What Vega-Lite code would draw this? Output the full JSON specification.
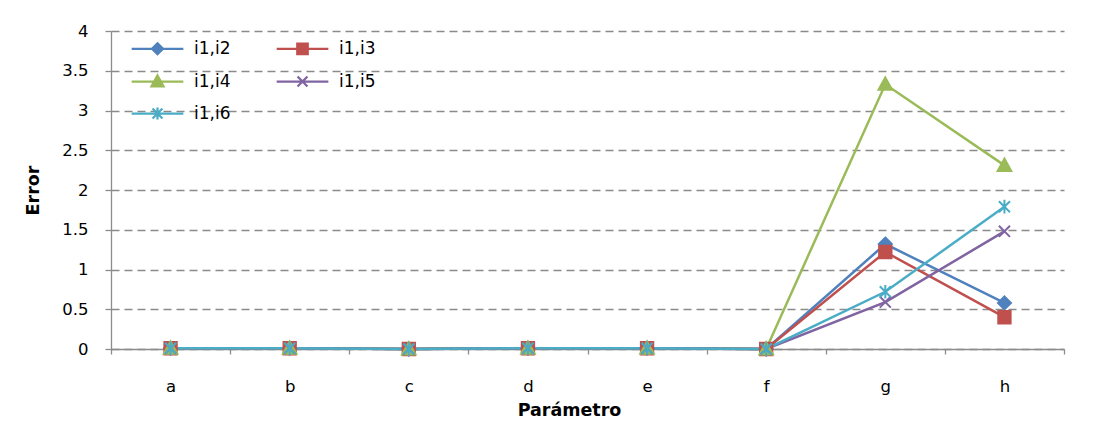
{
  "$schema": "https://vega.github.io/schema/vega-lite/v6.json",
  "autosize": "none",
  "width": 953,
  "height": 318,
  "padding": {"left": 111, "top": 31, "right": 37, "bottom": 88},
  "background": "white",
  "config": {
    "font": "DejaVu Sans",
    "view": {"stroke": null},
    "axis": {
      "labelFont": "DejaVu Sans",
      "titleFont": "DejaVu Sans",
      "labelColor": "black",
      "titleColor": "black",
      "labelFontSize": 16.5,
      "titleFontSize": 17.5,
      "titleFontWeight": "bold",
      "domainColor": "#8c8c8c",
      "tickColor": "#8c8c8c",
      "domainWidth": 1.3,
      "tickWidth": 1.3
    },
    "legend": {"labelFont": "DejaVu Sans", "labelColor": "black"}
  },
  "data": {
    "values": [
      {"serie": "i1,i2", "param": "a", "error": 0.01},
      {"serie": "i1,i2", "param": "b", "error": 0.01},
      {"serie": "i1,i2", "param": "c", "error": 0.0},
      {"serie": "i1,i2", "param": "d", "error": 0.01},
      {"serie": "i1,i2", "param": "e", "error": 0.01},
      {"serie": "i1,i2", "param": "f", "error": 0.0},
      {"serie": "i1,i2", "param": "g", "error": 1.32},
      {"serie": "i1,i2", "param": "h", "error": 0.58},
      {"serie": "i1,i3", "param": "a", "error": 0.01},
      {"serie": "i1,i3", "param": "b", "error": 0.01},
      {"serie": "i1,i3", "param": "c", "error": 0.0},
      {"serie": "i1,i3", "param": "d", "error": 0.01},
      {"serie": "i1,i3", "param": "e", "error": 0.01},
      {"serie": "i1,i3", "param": "f", "error": 0.0},
      {"serie": "i1,i3", "param": "g", "error": 1.22},
      {"serie": "i1,i3", "param": "h", "error": 0.4},
      {"serie": "i1,i4", "param": "a", "error": 0.01},
      {"serie": "i1,i4", "param": "b", "error": 0.01},
      {"serie": "i1,i4", "param": "c", "error": 0.0},
      {"serie": "i1,i4", "param": "d", "error": 0.01},
      {"serie": "i1,i4", "param": "e", "error": 0.01},
      {"serie": "i1,i4", "param": "f", "error": 0.0},
      {"serie": "i1,i4", "param": "g", "error": 3.33},
      {"serie": "i1,i4", "param": "h", "error": 2.31},
      {"serie": "i1,i5", "param": "a", "error": 0.01},
      {"serie": "i1,i5", "param": "b", "error": 0.01},
      {"serie": "i1,i5", "param": "c", "error": 0.0},
      {"serie": "i1,i5", "param": "d", "error": 0.01},
      {"serie": "i1,i5", "param": "e", "error": 0.01},
      {"serie": "i1,i5", "param": "f", "error": 0.0},
      {"serie": "i1,i5", "param": "g", "error": 0.59},
      {"serie": "i1,i5", "param": "h", "error": 1.48},
      {"serie": "i1,i6", "param": "a", "error": 0.01},
      {"serie": "i1,i6", "param": "b", "error": 0.01},
      {"serie": "i1,i6", "param": "c", "error": 0.0},
      {"serie": "i1,i6", "param": "d", "error": 0.01},
      {"serie": "i1,i6", "param": "e", "error": 0.01},
      {"serie": "i1,i6", "param": "f", "error": 0.0},
      {"serie": "i1,i6", "param": "g", "error": 0.72},
      {"serie": "i1,i6", "param": "h", "error": 1.79}
    ]
  },
  "encoding": {
    "x": {
      "field": "param",
      "type": "nominal",
      "bandPosition": 0.5,
      "scale": {"type": "band", "paddingInner": 0, "paddingOuter": 0},
      "axis": {
        "title": "Parámetro",
        "labelAngle": 0,
        "tickBand": "extent",
        "tickSize": 5,
        "labelBaseline": "alphabetic",
        "labelPadding": 37,
        "titleBaseline": "alphabetic",
        "titleX": 458,
        "titleY": 66,
        "grid": false
      }
    },
    "y": {
      "field": "error",
      "type": "quantitative",
      "scale": {"domain": [0, 4], "nice": false, "zero": true},
      "axis": {
        "title": "Error",
        "values": [0, 0.5, 1, 1.5, 2, 2.5, 3, 3.5, 4],
        "format": "~g",
        "tickSize": 6,
        "labelPadding": 17,
        "titlePadding": 19,
        "grid": true,
        "gridColor": "#8a8a8a",
        "gridDash": [8, 5],
        "gridWidth": 1.3
      }
    }
  },
  "layer": [
    {
      "mark": {"type": "line", "strokeWidth": 2.5},
      "encoding": {
        "color": {
          "field": "serie",
          "type": "nominal",
          "scale": {
            "domain": ["i1,i2", "i1,i3", "i1,i4", "i1,i5", "i1,i6"],
            "range": ["#4F81BD", "#C0504D", "#9BBB59", "#8064A2", "#4BACC6"]
          },
          "legend": {
            "title": null,
            "orient": "none",
            "direction": "horizontal",
            "legendX": 38,
            "legendY": 9,
            "columns": 2,
            "symbolSize": 121,
            "symbolStrokeWidth": 2.25,
            "labelFontSize": 17,
            "labelOffset": 28,
            "columnPadding": 41,
            "rowPadding": 11,
            "encode": {
              "symbols": {
                "update": {
                  "shape": {"signal": "datum.value === 'i1,i2' ? 'M-4.7,0H4.7M0,-1L1,0L0,1L-1,0Z' : datum.value === 'i1,i3' ? 'M-4.7,0H4.7M-0.95,-0.95H0.95V0.95H-0.95Z' : datum.value === 'i1,i4' ? 'M-4.7,0H4.7M0,-1.1L1.1,0.9H-1.1Z' : datum.value === 'i1,i5' ? 'M-4.7,0H4.7M-0.9,-0.9L0.9,0.9M-0.9,0.9L0.9,-0.9' : 'M-4.7,0H4.7M-0.9,-0.9L0.9,0.9M-0.9,0.9L0.9,-0.9M0,-1.1V1.1'"},
                  "fill": {"signal": "scale('color', datum.value)"},
                  "stroke": {"signal": "scale('color', datum.value)"},
                  "opacity": {"value": 1}
                }
              }
            }
          }
        }
      }
    },
    {
      "transform": [{"filter": "datum.serie === 'i1,i2'"}],
      "mark": {"type": "point", "filled": true, "size": 169, "strokeWidth": 2, "opacity": 1,
               "shape": "M0,-1L1,0L0,1L-1,0Z", "fill": "#4F81BD", "stroke": "#4F81BD"}
    },
    {
      "transform": [{"filter": "datum.serie === 'i1,i3'"}],
      "mark": {"type": "point", "filled": true, "size": 169, "strokeWidth": 2, "opacity": 1,
               "shape": "M-0.95,-0.95H0.95V0.95H-0.95Z", "fill": "#C0504D", "stroke": "#C0504D"}
    },
    {
      "transform": [{"filter": "datum.serie === 'i1,i4'"}],
      "mark": {"type": "point", "filled": true, "size": 169, "strokeWidth": 2, "opacity": 1,
               "shape": "M0,-1.05L1.05,0.85H-1.05Z", "fill": "#9BBB59", "stroke": "#9BBB59"}
    },
    {
      "transform": [{"filter": "datum.serie === 'i1,i5'"}],
      "mark": {"type": "point", "filled": false, "size": 169, "strokeWidth": 2, "opacity": 1,
               "shape": "M-0.85,-0.85L0.85,0.85M-0.85,0.85L0.85,-0.85", "stroke": "#8064A2"}
    },
    {
      "transform": [{"filter": "datum.serie === 'i1,i6'"}],
      "mark": {"type": "point", "filled": false, "size": 169, "strokeWidth": 2, "opacity": 1,
               "shape": "M-0.85,-0.85L0.85,0.85M-0.85,0.85L0.85,-0.85M0,-1.05V1.05", "stroke": "#4BACC6"}
    }
  ]
}
